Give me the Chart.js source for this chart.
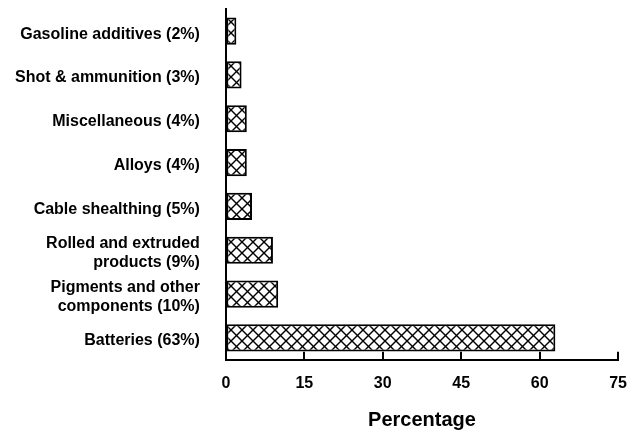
<!DOCTYPE html>
<html>
<head>
<meta charset="utf-8">
<script src="https://cdn.jsdelivr.net/npm/chart.js@4/dist/chart.umd.min.js"></script>
<style>
  html, body { margin: 0; padding: 0; background: #fff; }
  #wrap { width: 627px; height: 430px; position: relative; }
</style>
</head>
<body>
<div id="wrap"><canvas id="leadChart"></canvas></div>
<script>
// -------------------------------
// DATA
// -------------------------------
const categories = [
    'Gasoline additives (2%)',
    'Shot & ammunition (3%)',
    'Miscellaneous (4%)',
    'Alloys (4%)',
    'Cable shealthing (5%)',
    ['Rolled and extruded', 'products (9%)'],
    ['Pigments and other', 'components (10%)'],
    'Batteries (63%)'
];
const shares = [2, 3, 4, 4, 5, 9, 10, 63];
const xTicks = [0, 15, 30, 45, 60, 75];

// crosshatch fill like the printed figure
function makeHatch() {
    const s = 11;
    const c = document.createElement('canvas');
    c.width = s;
    c.height = s;
    const g = c.getContext('2d');
    g.fillStyle = '#fff';
    g.fillRect(0, 0, s, s);
    g.strokeStyle = '#000';
    g.lineWidth = 1.4;
    for (let k = -1; k <= 1; k++) {
        g.beginPath();
        g.moveTo(k * s - 2, -2);
        g.lineTo(k * s + s + 2, s + 2);
        g.stroke();
        g.beginPath();
        g.moveTo((k + 1) * s + 2, -2);
        g.lineTo(k * s - 2, s + 2);
        g.stroke();
    }
    return g.createPattern(c, 'repeat');
}

// small tick marks pointing up from the x axis
const upTicks = {
    id: 'upTicks',
    afterDraw(chart) {
        const x = chart.scales.x;
        const ctx = chart.ctx;
        const bottom = chart.chartArea.bottom;
        ctx.save();
        ctx.strokeStyle = '#000';
        ctx.lineWidth = 2;
        xTicks.slice(1).forEach(v => {
            const px = Math.round(x.getPixelForValue(v));
            ctx.beginPath();
            ctx.moveTo(px, bottom + 1);
            ctx.lineTo(px, bottom - 8);
            ctx.stroke();
        });
        ctx.restore();
    }
};

Chart.defaults.color = '#000';
Chart.defaults.font.family = '"Liberation Sans", Arial, sans-serif';

const ctx = document.getElementById('leadChart');
const hatch = makeHatch();

new Chart(ctx, {
    type: 'bar',
    data: {
        labels: categories,
        datasets: [{
            data: shares,
            backgroundColor: hatch,
            borderColor: '#000',
            borderWidth: 2,
            borderSkipped: false,
            categoryPercentage: 1,
            barPercentage: 0.62
        }]
    },
    plugins: [upTicks],
    options: {
        indexAxis: 'y',
        responsive: true,
        maintainAspectRatio: false,
        animation: false,
        layout: {
            padding: { left: 15, right: 0, top: 1, bottom: 0 }
        },
        plugins: {
            legend: { display: false },
            tooltip: { enabled: false }
        },
        scales: {
            x: {
                min: 0,
                max: 75,
                afterBuildTicks: axis => {
                    axis.ticks = xTicks.map(v => ({ value: v }));
                },
                // invisible ticks only keep the gap under the axis
                grid: { drawOnChartArea: false, tickLength: 14, tickColor: 'transparent' },
                border: { display: true, color: '#000', width: 2 },
                ticks: {
                    padding: 0,
                    font: { size: 16, weight: 'bold' }
                },
                title: {
                    display: true,
                    text: 'Percentage',
                    font: { size: 20, weight: 'bold', lineHeight: 0.95 },
                    padding: { top: 18, bottom: 0 }
                }
            },
            y: {
                grid: { drawOnChartArea: false, tickLength: 26, tickColor: 'transparent' },
                border: { display: true, color: '#000', width: 2 },
                ticks: {
                    padding: 0,
                    autoSkip: false,
                    labelOffset: 3,
                    font: { size: 16, weight: 'bold', lineHeight: 1.15 }
                }
            }
        }
    }
});
</script>
</body>
</html>
